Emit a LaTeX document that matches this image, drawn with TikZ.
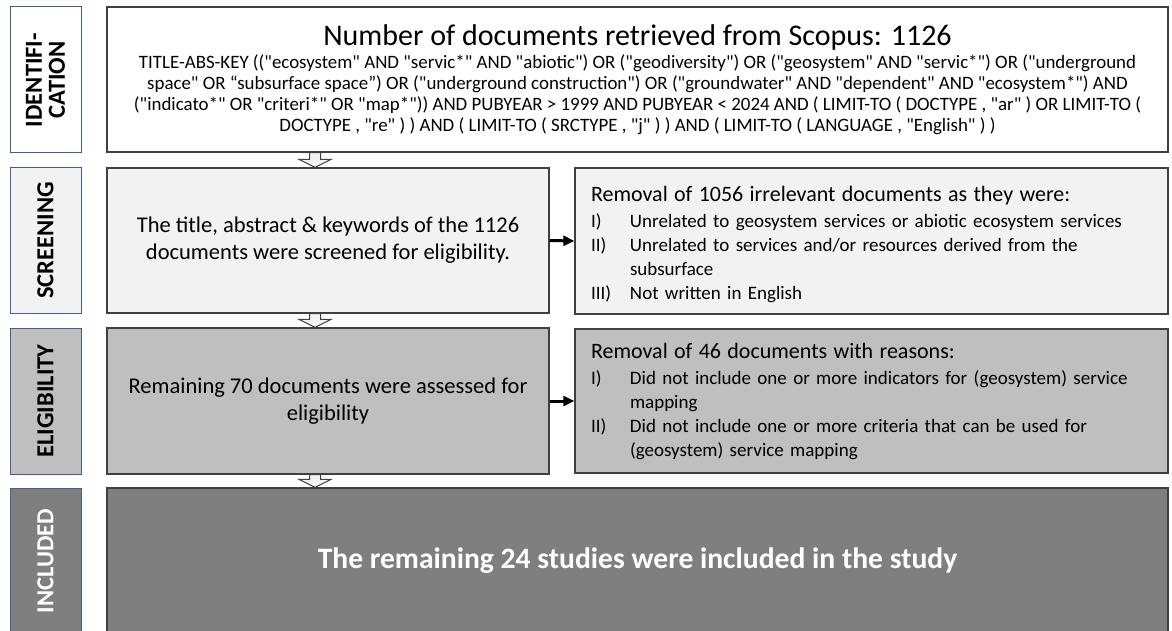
\documentclass[tikz,border=0pt]{standalone}
\usepackage{fontspec}
\setmainfont{Carlito}[Ligatures=TeXOff]
\usetikzlibrary{arrows.meta,calc}

\definecolor{frame}{HTML}{404040}
\definecolor{labframe}{HTML}{41608F}
\definecolor{lightfill}{HTML}{F2F2F2}
\definecolor{midfill}{HTML}{BFBFBF}
\definecolor{darkfill}{HTML}{7F7F7F}

\tikzset{
  stage/.style={draw=labframe, line width=1pt, rotate=90, minimum width=146pt, minimum height=71pt,
    inner sep=0pt, align=center, font=\fontsize{24.5}{23}\selectfont\bfseries},
  panel/.style={draw=frame, line width=1.3pt, inner sep=0pt, align=center},
  reasons/.style={panel, align=left, text width=561pt, font=\fontsize{19}{24}\selectfont},
  pass/.style={draw=frame, line width=1pt, fill=lightfill},
  push/.style={-{Triangle[length=11pt,width=10pt]}, line width=3pt}
}

\begin{document}
\begin{tikzpicture}[x=1pt,y=-1pt]
  \useasboundingbox (0,0) rectangle (1172,631);

  \node[stage, fill=white] (idlab) at (45.5,80) {IDENTIFI-\\CATION};
  \node[stage, fill=lightfill] (scrlab) at (45.5,240.5) {SCREENING};
  \node[stage, fill=midfill] (elilab) at (45.5,401) {ELIGIBILITY};
  \node[stage, fill=darkfill, text=white] (inclab) at (45.5,561) {INCLUDED};

  \node[panel, fill=white, minimum width=1061pt, minimum height=145pt, font=\fontsize{18.9}{21}\selectfont] (idbox) at (637.5,79.5)
    {{\fontsize{30}{34}\selectfont Number of documents retrieved from Scopus: 1126}\\[2pt]
     TITLE-ABS-KEY (("ecosystem" AND "servic*" AND "abiotic") OR ("geodiversity") OR ("geosystem" AND "servic*") OR ("underground\\
     space" OR “subsurface space”) OR ("underground construction") OR ("groundwater" AND "dependent" AND "ecosystem*") AND\\
     ("indicato*" OR "criteri*" OR "map*")) AND PUBYEAR > 1999 AND PUBYEAR < 2024 AND ( LIMIT-TO ( DOCTYPE , "ar" ) OR LIMIT-TO (\\
     DOCTYPE , "re" ) ) AND ( LIMIT-TO ( SRCTYPE , "j" ) ) AND ( LIMIT-TO ( LANGUAGE , "English" ) )};

  \node[panel, fill=lightfill, minimum width=442pt, minimum height=145pt, font=\fontsize{22.5}{27}\selectfont] (scrbox) at (328,240.5)
    {The title, abstract \& keywords of the 1126\\documents were screened for eligibility.};
  \node[reasons, fill=lightfill, minimum width=593pt, minimum height=146pt] (scrout) at (871.5,241)
    {{\fontsize{22}{24}\selectfont\rule{0pt}{22pt}Removal of 1056 irrelevant documents as they were:}\\[2pt]
     \makebox[39pt][l]{I)}Unrelated to geosystem services or abiotic ecosystem services\\
     \makebox[39pt][l]{II)}Unrelated to services and/or resources derived from the\\
     \hspace*{39pt}subsurface\\
     \makebox[39pt][l]{III)}Not written in English};

  \node[panel, fill=midfill, minimum width=442pt, minimum height=146pt, font=\fontsize{22.5}{27}\selectfont] (elibox) at (328,401)
    {Remaining 70 documents were assessed for\\eligibility};
  \node[reasons, fill=midfill, minimum width=593pt, minimum height=144pt] (eliout) at (871.5,401)
    {{\fontsize{22}{24}\selectfont Removal of 46 documents with reasons:}\\[2pt]
     \makebox[39pt][l]{I)}Did not include one or more indicators for (geosystem) service\\
     \hspace*{39pt}mapping\\
     \makebox[39pt][l]{II)}Did not include one or more criteria that can be used for\\
     \hspace*{39pt}(geosystem) service mapping};

  \node[panel, fill=darkfill, text=white, minimum width=1061pt, minimum height=146pt, font=\fontsize{29.6}{32}\selectfont\bfseries] (incbox) at (637.5,561)
    {The remaining 24 studies were included in the study};

  \coordinate (ax) at (315,0);
  \foreach \a/\b in {idbox/scrbox,scrbox/elibox,elibox/incbox}
    \draw[pass] ($(\a.south -| ax)+(-5.5,0)$) |- ($(\b.north -| ax)+(-16,-8)$) -- (\b.north -| ax)
      -- ++(16,-8) -| ($(\a.south -| ax)+(5.5,0)$) -- cycle;

  \draw[push] (scrbox.east) -- (scrout.west);
  \draw[push] (elibox.east) -- (eliout.west);
\end{tikzpicture}
\end{document}
